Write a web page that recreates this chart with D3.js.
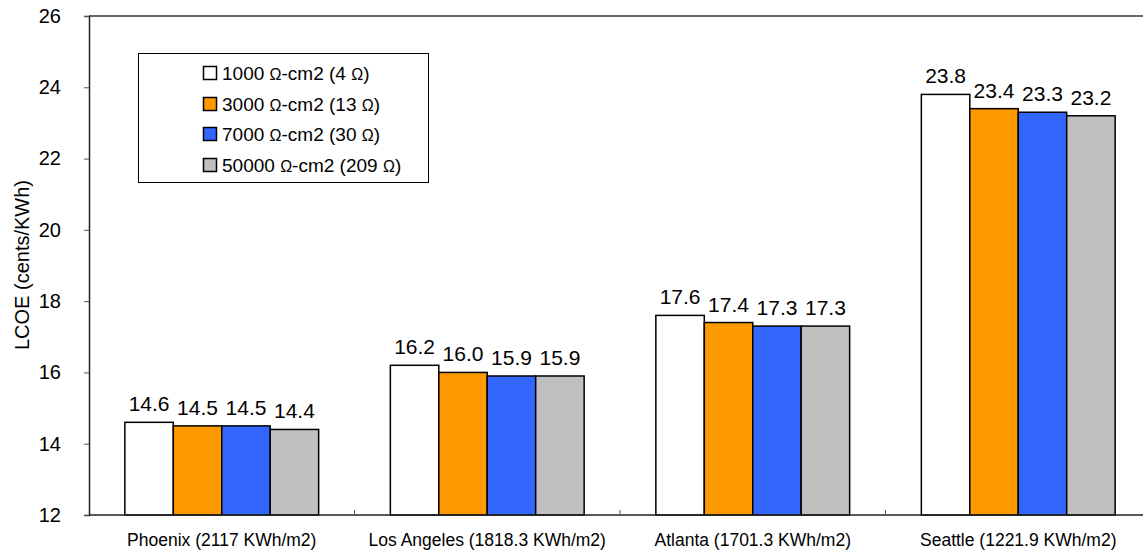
<!DOCTYPE html>
<html>
<head>
<meta charset="utf-8">
<script src="https://cdn.jsdelivr.net/npm/d3@7"></script>
<style>
  html, body { margin: 0; padding: 0; background: #fff; }
  svg { display: block; font-family: Arial, "Liberation Sans", sans-serif; }
</style>
</head>
<body>
<svg id="chart" width="1143" height="552"></svg>
<script>
// Locations and their annual irradiance
const categories = [
  "Phoenix (2117 KWh/m2)",
  "Los Angeles (1818.3 KWh/m2)",
  "Atlanta (1701.3 KWh/m2)",
  "Seattle (1221.9 KWh/m2)"
];

// Series: shunt resistance cases
const seriesNames = ["1000", "3000", "7000", "50000"];
const seriesOhms = ["4", "13", "30", "209"];
const seriesColors = ["#FFFFFF", "#FF9900", "#3366FF", "#C0C0C0"];

// LCOE (cents/KWh) per location, one array per series
const lcoe1000 = [14.6, 16.2, 17.6, 23.8];
const lcoe3000 = [14.5, 16.0, 17.4, 23.4];
const lcoe7000 = [14.5, 15.9, 17.3, 23.3];
const lcoe50000 = [14.4, 15.9, 17.3, 23.2];
const seriesValues = [lcoe1000, lcoe3000, lcoe7000, lcoe50000];

const yTicks = [12, 14, 16, 18, 20, 22, 24, 26];

const svg = d3.select("#chart");
const plotLeft = 89, plotTop = 16, plotBottom = 515, plotRight = 1151;

const y = d3.scaleLinear().domain([12, 26]).range([plotBottom, plotTop]);
const x0 = d3.scaleBand().domain(categories).range([plotLeft, plotRight]).padding(0);
const x1 = d3.scaleBand().domain(d3.range(seriesNames.length))
  .range([0, x0.bandwidth()]).paddingInner(0).paddingOuter(0.74);

// Bars
const rows = categories.map((c, i) => ({ c, vals: seriesValues.map(s => s[i]) }));
const groups = svg.append("g").selectAll("g").data(rows).join("g")
  .attr("transform", d => `translate(${x0(d.c)},0)`);

groups.selectAll("rect").data(d => d.vals.map((v, k) => ({ v, k }))).join("rect")
  .attr("x", d => x1(d.k))
  .attr("y", d => y(d.v))
  .attr("width", x1.bandwidth())
  .attr("height", d => y(12) - y(d.v))
  .attr("fill", d => seriesColors[d.k])
  .attr("stroke", "#000")
  .attr("stroke-width", 1.5);

// Value labels
groups.selectAll("text").data(d => d.vals.map((v, k) => ({ v, k }))).join("text")
  .attr("x", d => x1(d.k) + x1.bandwidth() / 2)
  .attr("y", d => y(d.v) - 11)
  .attr("text-anchor", "middle")
  .attr("font-size", 21)
  .attr("fill", "#000")
  .text(d => d.v.toFixed(1));

// Top frame line
svg.append("line")
  .attr("x1", plotLeft).attr("x2", plotRight).attr("y1", plotTop).attr("y2", plotTop)
  .attr("stroke", "#333").attr("stroke-width", 1.5);

// Y axis
const yAxis = svg.append("g").attr("transform", `translate(${plotLeft},0)`)
  .call(d3.axisLeft(y).tickValues(yTicks).tickSize(5).tickPadding(23).tickFormat(d3.format("d")));
yAxis.select(".domain").attr("stroke", "#222").attr("stroke-width", 1.5);
yAxis.selectAll(".tick line").attr("stroke", "#555");
yAxis.selectAll("text").attr("font-size", 20).attr("fill", "#000").attr("font-family", "Arial, 'Liberation Sans', sans-serif");

// X axis: ticks at category boundaries, pointing into the plot
const xAxisG = svg.append("g");
xAxisG.append("line")
  .attr("x1", plotLeft).attr("x2", plotRight).attr("y1", plotBottom).attr("y2", plotBottom)
  .attr("stroke", "#222").attr("stroke-width", 1.5);
const boundaries = categories.slice(1).map(c => x0(c));
xAxisG.selectAll("line.tk").data(boundaries).join("line")
  .attr("class", "tk")
  .attr("x1", d => d).attr("x2", d => d)
  .attr("y1", plotBottom).attr("y2", plotBottom - 5)
  .attr("stroke", "#555");
xAxisG.selectAll("text").data(categories).join("text")
  .attr("x", d => x0(d) + x0.bandwidth() / 2)
  .attr("y", 546)
  .attr("text-anchor", "middle")
  .attr("font-size", 17.5)
  .attr("fill", "#000")
  .text(d => d);

// Y axis title
svg.append("text")
  .attr("transform", "translate(29,265) rotate(-90)")
  .attr("text-anchor", "middle")
  .attr("font-size", 20)
  .attr("fill", "#000")
  .text("LCOE (cents/KWh)");

// Legend
const legend = svg.append("g");
legend.append("rect")
  .attr("x", 138.5).attr("y", 53.5).attr("width", 290).attr("height", 129)
  .attr("fill", "#fff").attr("stroke", "#000").attr("stroke-width", 1);
const rowY = [73, 104, 134, 165];
seriesNames.forEach((name, k) => {
  legend.append("rect")
    .attr("x", 203.5).attr("y", rowY[k] - 6.5).attr("width", 13).attr("height", 13)
    .attr("fill", seriesColors[k]).attr("stroke", "#000").attr("stroke-width", 1.5);
  const t = legend.append("text")
    .attr("x", 222).attr("y", rowY[k] + 7)
    .attr("font-size", 19).attr("fill", "#000");
  t.append("tspan").text(name + " ");
  t.append("tspan").attr("font-size", 16).text("Ω");
  t.append("tspan").text("-cm2 (" + seriesOhms[k] + " ");
  t.append("tspan").attr("font-size", 16).text("Ω");
  t.append("tspan").text(")");
});
</script>
</body>
</html>
